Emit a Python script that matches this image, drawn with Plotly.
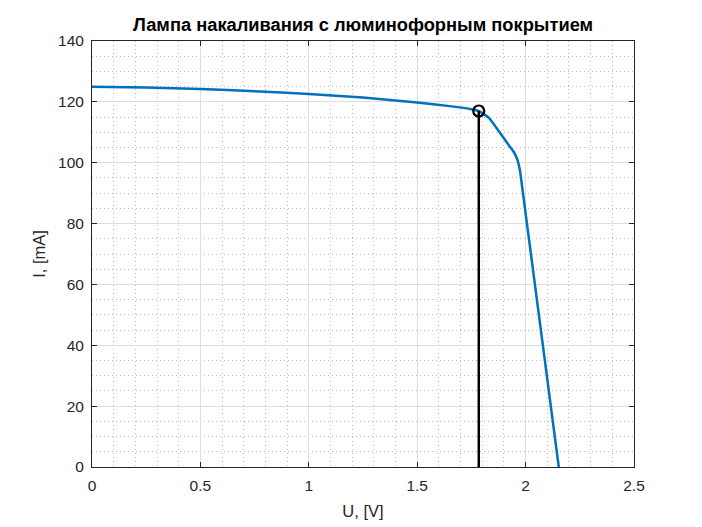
import plotly.graph_objects as go

# Data
U = [0, 0.25, 0.5, 0.75, 1.0, 1.25, 1.5, 1.65, 1.75, 1.784, 1.83, 1.88, 1.92, 1.945, 1.962, 1.975, 2.153]
I = [125, 124.7, 124.2, 123.5, 122.6, 121.4, 119.8, 118.6, 117.6, 117.0, 114.8, 110.0, 106.0, 103.6, 101.0, 97.0, 0]

U_mpp = [1.784]
I_mpp = [117.0]

x_ticks = [0, 0.5, 1, 1.5, 2, 2.5]
y_ticks = [0, 20, 40, 60, 80, 100, 120, 140]

title = "Лампа накаливания с люминофорным покрытием"
xlabel = "U, [V]"
ylabel = "I, [mA]"

axis_color = "#262626"
grid_color = "#dedede"
minor_grid_color = "#bdbdbd"
FONT = "Liberation Sans, Arial, sans-serif"

fig = go.Figure()
fig.add_trace(go.Scatter(x=U, y=I, mode="lines", line_shape="spline",
                         line=dict(color="#0072BD", width=2.5, smoothing=0.4), showlegend=False))
fig.add_trace(go.Scatter(x=[U_mpp[0], U_mpp[0]], y=[0, I_mpp[0]], mode="lines",
                         line=dict(color="black", width=2.5), showlegend=False))
fig.add_trace(go.Scatter(x=U_mpp, y=I_mpp, mode="markers",
                         marker=dict(symbol="circle-open", size=11, color="black",
                                     line=dict(width=2.2, color="black")),
                         showlegend=False))

axis_common = dict(
    showline=True, linecolor=axis_color, linewidth=1, mirror="ticks",
    ticks="inside", ticklen=5, tickcolor=axis_color, tickwidth=1,
    showgrid=True, gridcolor=grid_color, gridwidth=1,
    zeroline=False,
    tickfont=dict(family=FONT, size=15.5, color=axis_color),
)

fig.update_xaxes(range=[0, 2.5], tickvals=x_ticks, ticktext=[str(v) for v in x_ticks],
                 ticklabelstandoff=4,
                 title=dict(text=xlabel, font=dict(family=FONT, size=16.5, color=axis_color), standoff=12),
                 minor=dict(dtick=0.1, showgrid=True, griddash="1px,3px", gridcolor=minor_grid_color, ticks=""),
                 **axis_common)
fig.update_yaxes(range=[0, 140], tickvals=y_ticks, ticktext=[str(v) for v in y_ticks],
                 ticklabelstandoff=4,
                 title=dict(text=ylabel, font=dict(family=FONT, size=16.5, color=axis_color), standoff=8),
                 minor=dict(dtick=5, showgrid=True, griddash="1px,3px", gridcolor=minor_grid_color, ticks=""),
                 **axis_common)

fig.update_layout(
    width=702, height=527,
    margin=dict(l=84, r=76, t=33, b=68),
    paper_bgcolor="white", plot_bgcolor="white",
    title=dict(text="<b>" + title + "</b>", x=355 / 702, xanchor="center",
               y=1 - 17 / 527, yanchor="middle",
               font=dict(family=FONT, size=18.3, color="black")),
)

fig.write_html("out.html")
